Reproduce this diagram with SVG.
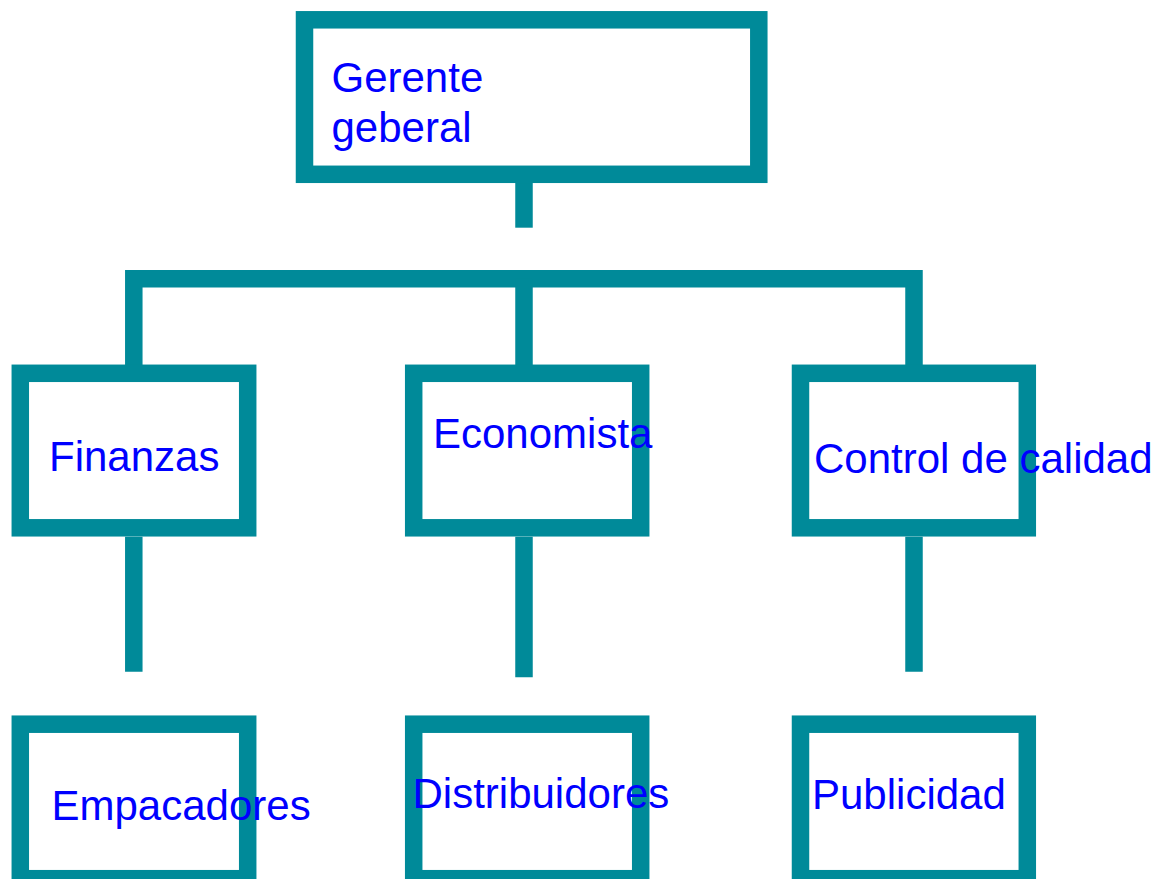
<svg xmlns="http://www.w3.org/2000/svg" width="1171" height="879" viewBox="0 0 1171 879">
<style>
.box{fill:#FFFFFF;stroke:#008A99;stroke-width:17.5}
.conn{fill:none;stroke:#008A99;stroke-width:17.5;stroke-linecap:butt;stroke-linejoin:miter}
.lbl{font-family:"Liberation Sans",Arial,sans-serif;font-size:42px;fill:#0000FF}
</style>
<rect width="1171" height="879" fill="#FFFFFF"/>
<g id="connectors">
<path class="conn" d="M524,183 V227.7"/>
<path class="conn" d="M133.8,373.3 V278.7 H914 V373.3"/>
<path class="conn" d="M524,278.7 V373.3"/>
<path class="conn" d="M133.8,536.7 V671.7"/>
<path class="conn" d="M524,536.7 V677.3"/>
<path class="conn" d="M914,536.7 V671.7"/>
</g>
<g id="gerente">
<rect class="box" x="304.5" y="19.8" width="454.3" height="154.5"/>
<text class="lbl" x="331.5" y="91.7">Gerente</text>
<text class="lbl" x="331.5" y="141.7">geberal</text>
</g>
<g id="finanzas">
<rect class="box" x="20.3" y="373.3" width="227.4" height="154.5"/>
<text class="lbl" x="49" y="471">Finanzas</text>
</g>
<g id="economista">
<rect class="box" x="413.7" y="373.3" width="227" height="154.5"/>
<text class="lbl" x="433" y="447.7">Economista</text>
</g>
<g id="control">
<rect class="box" x="800.5" y="373.3" width="226.8" height="154.5"/>
<text class="lbl" x="814" y="472.7">Control de calidad</text>
</g>
<g id="empacadores">
<rect class="box" x="20.3" y="724.2" width="227.4" height="154.5"/>
<text class="lbl" x="51.5" y="820">Empacadores</text>
</g>
<g id="distribuidores">
<rect class="box" x="413.7" y="724.2" width="227" height="154.5"/>
<text class="lbl" x="412.5" y="808.3">Distribuidores</text>
</g>
<g id="publicidad">
<rect class="box" x="800.5" y="724.2" width="226.8" height="154.5"/>
<text class="lbl" x="812" y="809">Publicidad</text>
</g>
</svg>
